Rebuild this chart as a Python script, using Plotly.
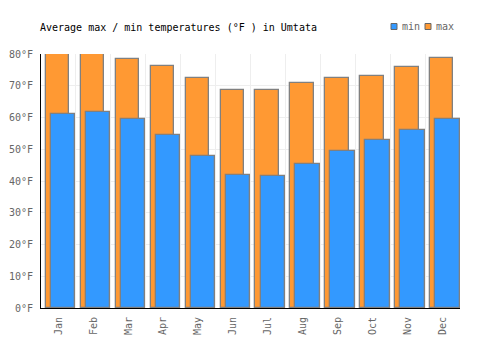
import plotly.graph_objects as go

months = ["Jan", "Feb", "Mar", "Apr", "May", "Jun", "Jul", "Aug", "Sep", "Oct", "Nov", "Dec"]
max_f = [79.9, 80.0, 78.3, 76.1, 72.3, 68.6, 68.6, 70.8, 72.3, 73.0, 75.8, 78.6]
min_f = [61.0, 61.6, 59.4, 54.4, 47.8, 41.8, 41.5, 45.3, 49.4, 52.8, 56.0, 59.4]
y_ticks = [0, 10, 20, 30, 40, 50, 60, 70, 80]
y_labels = [f"{v}°F" for v in y_ticks]
series_names = ["min", "max"]
series_colors = ["#3399ff", "#ff9933"]

font = "DejaVu Sans Mono"
W, H = 500, 350
L, R, T, B = 41, 40, 54, 42
PW, PH = W - L - R, H - T - B


def px_x(px):
    return (px - L) / PW


def px_y(py):
    return (H - B - py) / PH


fig = go.Figure()
fig.add_trace(go.Bar(
    x=months, y=max_f, name="max", showlegend=False,
    marker=dict(color="#ff9933", line=dict(color="#808080", width=1.3)),
    width=0.67, offset=-0.357,
))
fig.add_trace(go.Bar(
    x=months, y=min_f, name="min", showlegend=False,
    marker=dict(color="#3399ff", line=dict(color="#808080", width=1.3)),
    width=0.70, offset=-0.213,
))

# legend (manual, compact like the reference)
shapes = []
annotations = []
leg_x = [391, 425]
for name, color, lx in zip(series_names, series_colors, leg_x):
    shapes.append(dict(type="rect", xref="paper", yref="paper",
                       x0=px_x(lx), x1=px_x(lx + 6), y0=px_y(29.5), y1=px_y(23.5),
                       fillcolor=color, line=dict(color="#666666", width=1)))
    annotations.append(dict(text=name, xref="paper", yref="paper", x=px_x(lx + 9),
                            y=px_y(26.5), xanchor="left", yanchor="middle", showarrow=False,
                            font=dict(family=font, size=10, color="#666666")))

fig.update_layout(
    width=W, height=H,
    margin=dict(l=L, r=R, t=T, b=B, autoexpand=False),
    barmode="overlay",
    plot_bgcolor="white", paper_bgcolor="white",
    font=dict(family=font, size=10, color="#666666"),
    title=dict(text="Average max / min temperatures (°F ) in Umtata",
               x=40 / W, xanchor="left", xref="container",
               y=1 - 27 / H, yanchor="middle", yref="container",
               font=dict(family=font, size=10, color="#000000")),
    showlegend=False,
    shapes=shapes,
    annotations=annotations,
    bargap=0,
)
fig.update_xaxes(
    type="category", tickson="boundaries", showgrid=True, gridcolor="#eeeeee", gridwidth=1,
    showline=True, linecolor="#000000", linewidth=1, tickangle=-90, ticks="",
    range=[-0.5, 11.5], ticklabelstandoff=4,
)
fig.update_yaxes(
    range=[0, 80], tickvals=y_ticks, ticktext=y_labels, showgrid=True, gridcolor="#eeeeee",
    gridwidth=1, showline=True, linecolor="#000000", linewidth=1, ticks="", zeroline=False,
    ticklabelstandoff=5,
)

fig.write_html("out.html")
